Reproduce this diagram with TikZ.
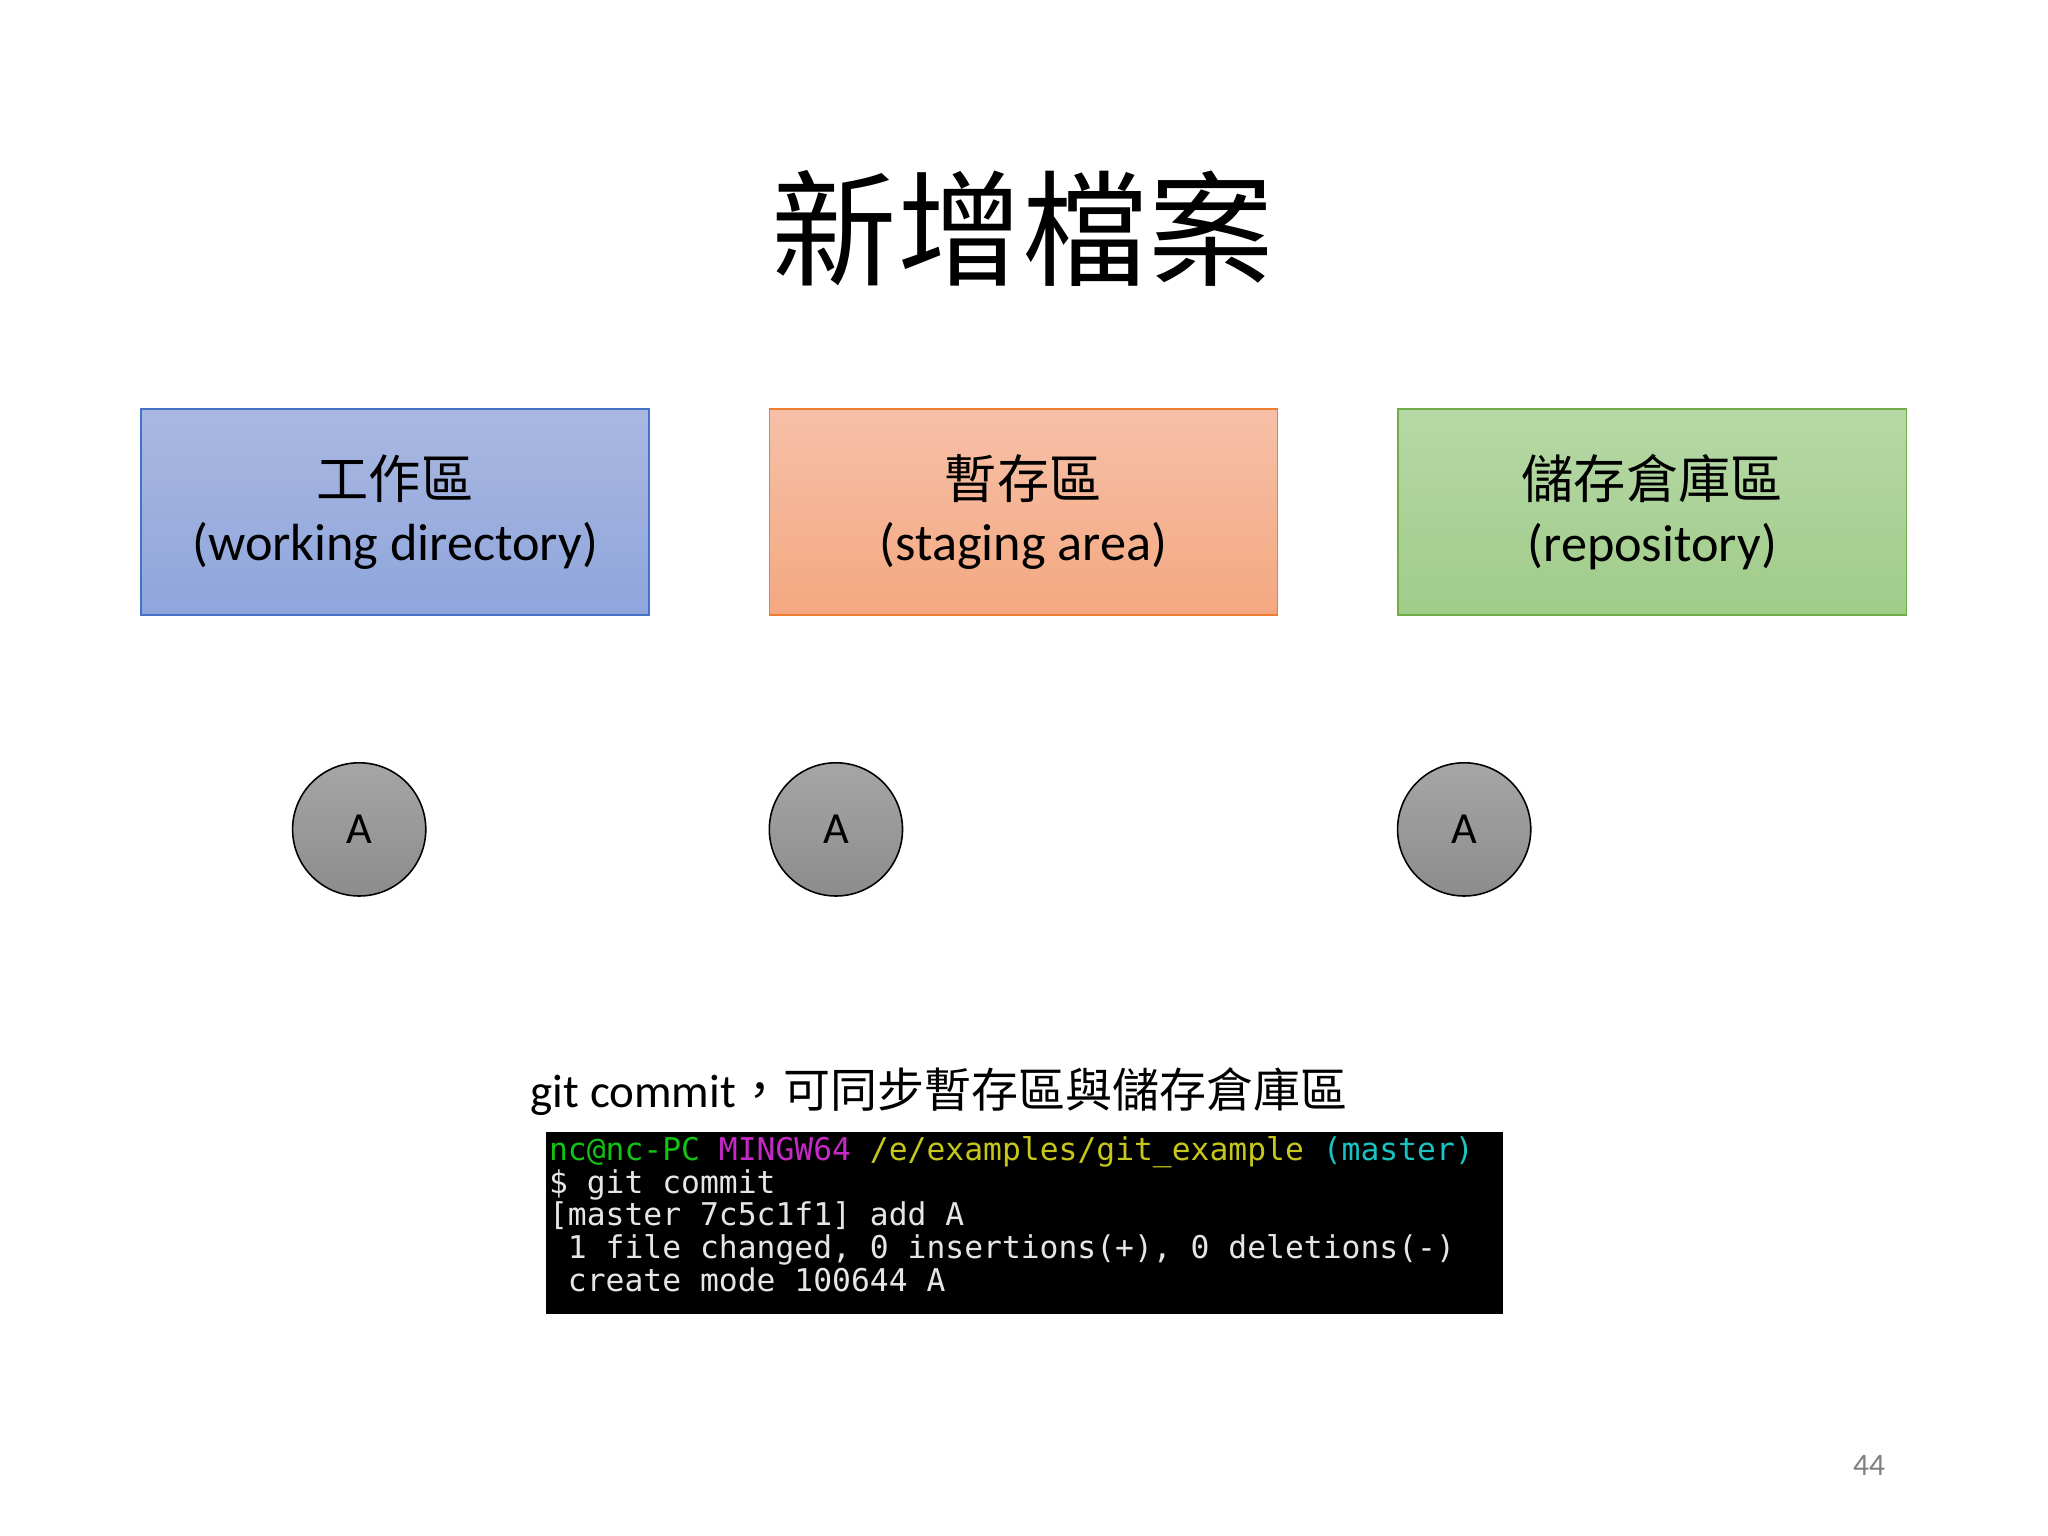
\documentclass[tikz,border=0pt]{standalone}
\usepackage{fontspec}
\setmainfont{Carlito}
\setmonofont{DejaVu Sans Mono}
\newfontfamily\cjk{Noto Sans CJK TC}
\begin{document}
\begin{tikzpicture}[x=0.5pt,y=-0.5pt,
  zone/.style={minimum width=194.5pt,minimum height=79pt,inner sep=0pt,align=center,font=\fontsize{20}{24}\selectfont,line width=0.6pt},
  ball/.style={circle,draw=black,line width=0.6pt,minimum size=51pt,inner sep=0pt,top color=gray!70,bottom color=gray!110!black!100,font=\fontsize{17}{20}\selectfont},
  tline/.style={anchor=north west,inner sep=0pt,font=\ttfamily\fontsize{12}{12.5}\selectfont}]
\definecolor{bt}{HTML}{AAB8E1}\definecolor{bb}{HTML}{8EA5DC}
\definecolor{ot}{HTML}{F6C0A7}\definecolor{ob}{HTML}{F4A881}
\definecolor{gt}{HTML}{B6D8A6}\definecolor{gb}{HTML}{A0CC89}
\definecolor{tgreen}{HTML}{13C313}\definecolor{tmag}{HTML}{C729C7}
\definecolor{tyel}{HTML}{C6C61B}\definecolor{tcyan}{HTML}{19C3C3}
\useasboundingbox (0,0) rectangle (1568,1176);
\node (title) at (783,175) {\cjk\fontsize{48}{50}\selectfont 新增檔案};
\node[zone,draw={rgb,255:red,68;green,114;blue,196},top color=bt,bottom color=bb] (wd) at (302.5,392) {{\cjk 工作區}\\(working directory)};
\node[zone,draw={rgb,255:red,237;green,125;blue,49},top color=ot,bottom color=ob] (sa) at (783.5,392) {{\cjk 暫存區}\\(staging area)};
\node[zone,draw={rgb,255:red,112;green,173;blue,71},top color=gt,bottom color=gb] (rp) at (1265,392) {{\cjk 儲存倉庫區}\\(repository)};
\node[ball] (a1) at (275,635) {A};
\node[ball] (a2) at (640,635) {A};
\node[ball] (a3) at (1121,635) {A};
\node[anchor=west,inner sep=0pt,font=\fontsize{18}{20}\selectfont] (cap) at (406,836) {git commit{\cjk ，可同步暫存區與儲存倉庫區}};
\fill[black] (418,867) rectangle (1151,1006);
\node[tline,text=white] (t1) at (420,870) {\textcolor{tgreen}{nc@nc-PC} \textcolor{tmag}{MINGW64} \textcolor{tyel}{/e/examples/git\_example} \textcolor{tcyan}{(master)}};
\node[tline,text=white!90!black] (t2) at (420,895) {\$ git commit};
\node[tline,text=white!90!black] (t3) at (420,920) {[master 7c5c1f1] add A};
\node[tline,text=white!90!black] (t4) at (420,945) {\ 1 file changed, 0 insertions(+), 0 deletions(-)};
\node[tline,text=white!90!black] (t5) at (420,970) {\ create mode 100644 A};
\node[text=gray,font=\fontsize{12}{14}\selectfont] (pg) at (1431,1122) {44};
\end{tikzpicture}
\end{document}
